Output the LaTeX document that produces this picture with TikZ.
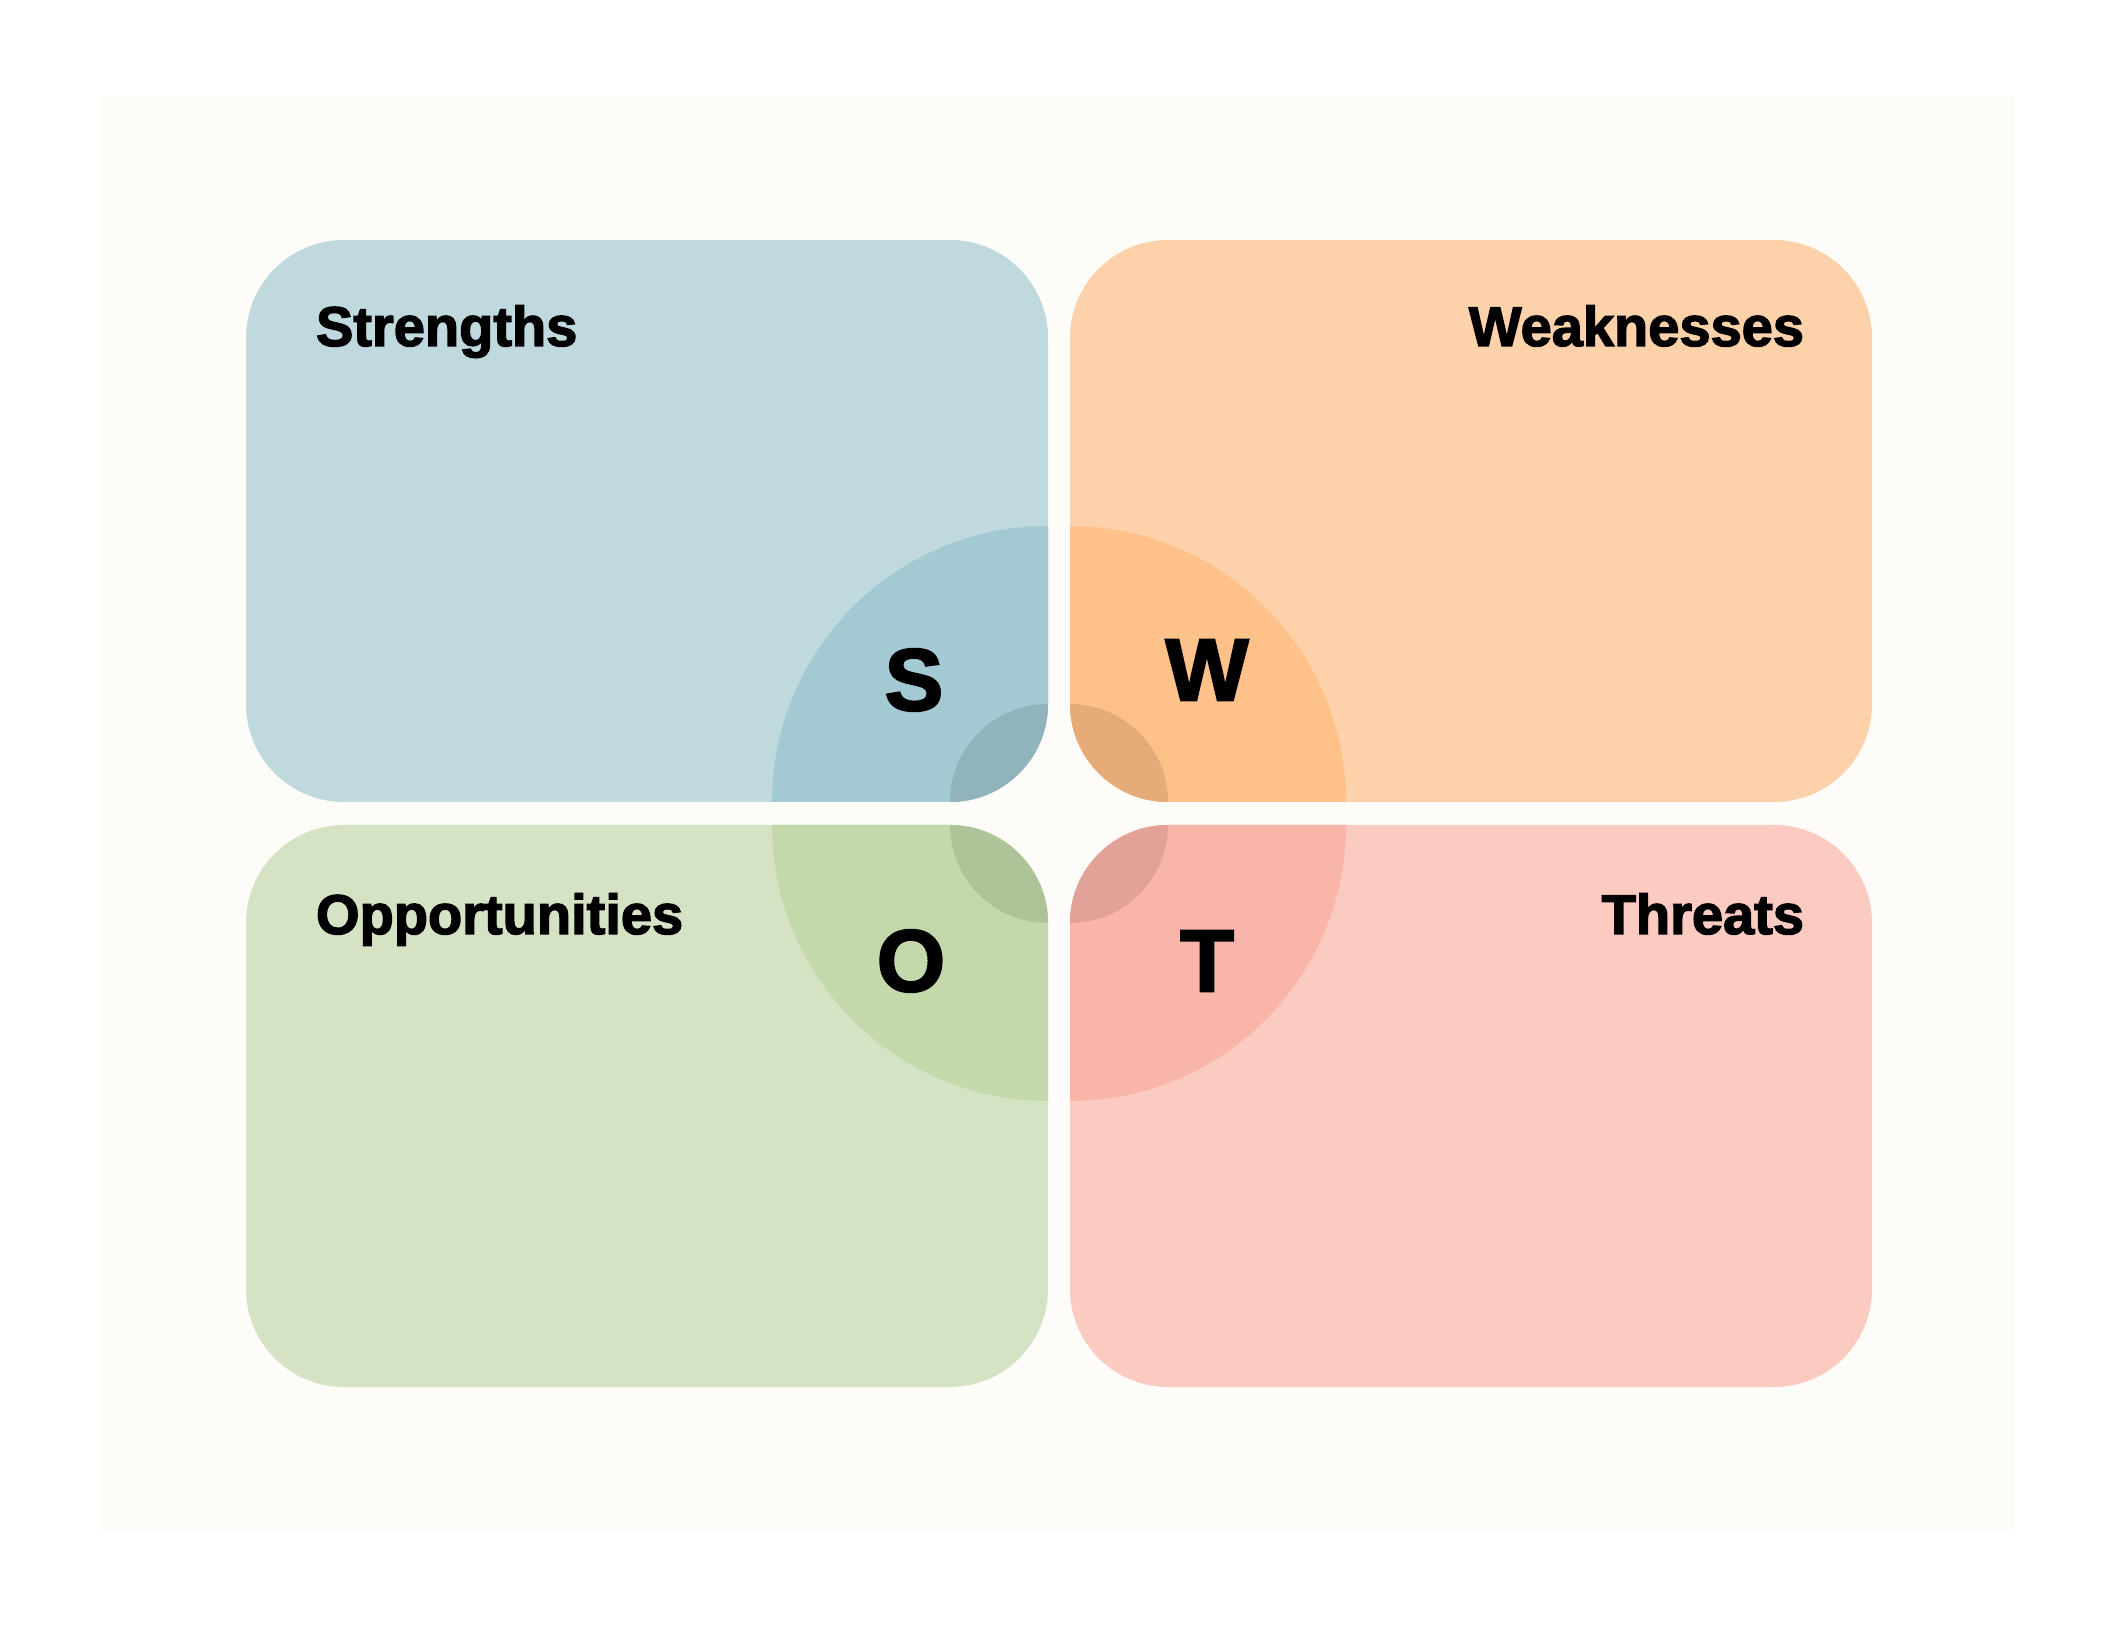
\documentclass[tikz,border=0pt]{standalone}
\usepackage{fontspec}
\setmainfont{Liberation Sans}
\newfontfamily\heavyfont[FakeBold=2.4]{Liberation Sans Bold}
\definecolor{outerbg}{HTML}{FFFFFF}
\definecolor{innerbg}{HTML}{FDFCF8}
\definecolor{sbox}{HTML}{BFD9DF}
\definecolor{sbig}{HTML}{A3CAD3}
\definecolor{slens}{HTML}{91B4BC}
\definecolor{wbox}{HTML}{FDD2AA}
\definecolor{wbig}{HTML}{FDC189}
\definecolor{wlens}{HTML}{E5AC79}
\definecolor{obox}{HTML}{D5E3C4}
\definecolor{obig}{HTML}{C3D9AB}
\definecolor{olens}{HTML}{ADC498}
\definecolor{tbox}{HTML}{FBCAC1}
\definecolor{tbig}{HTML}{F9B5AA}
\definecolor{tlens}{HTML}{E2A298}
\begin{document}
\begin{tikzpicture}[x=1pt,y=1pt,
  quad/.style={draw=none, rounded corners=98pt, minimum width=802pt, minimum height=562pt, inner sep=0pt, outer sep=0pt},
  boxtitle/.style={font=\heavyfont\fontsize{56}{60}\selectfont, inner sep=0pt, outer sep=0pt, text=black},
  bigletter/.style={font=\heavyfont\fontsize{88}{90}\selectfont, inner sep=0pt, outer sep=0pt, text=black}]
\useasboundingbox (0,0) rectangle (2124,1634);
\fill[outerbg] (0,0) rectangle (2124,1634);
\fill[innerbg] (102,103) rectangle (2015,1538);

% quadrant boxes
\node[quad, fill=sbox, anchor=north west] (S) at (246,1394) {};
\node[quad, fill=wbox, anchor=north west] (W) at (1070,1394) {};
\node[quad, fill=obox, anchor=north west] (O) at (246,809) {};
\node[quad, fill=tbox, anchor=north west] (T) at (1070,809) {};

% Strengths: quarter disc (r=276) and lens (r=98) at inner corner
\fill[sbig] (772,832) -- (950,832) arc[start angle=270, end angle=360, radius=98]
  -- (1048,1108) arc[start angle=90, end angle=180, radius=276] -- cycle;
\fill[slens] (950,832) arc[start angle=270, end angle=360, radius=98]
  arc[start angle=90, end angle=180, radius=98] -- cycle;

% Weaknesses
\fill[wbig] (1346,832) -- (1168,832) arc[start angle=270, end angle=180, radius=98]
  -- (1070,1108) arc[start angle=90, end angle=0, radius=276] -- cycle;
\fill[wlens] (1168,832) arc[start angle=270, end angle=180, radius=98]
  arc[start angle=90, end angle=0, radius=98] -- cycle;

% Opportunities
\fill[obig] (772,809) -- (950,809) arc[start angle=90, end angle=0, radius=98]
  -- (1048,533) arc[start angle=270, end angle=180, radius=276] -- cycle;
\fill[olens] (950,809) arc[start angle=90, end angle=0, radius=98]
  arc[start angle=270, end angle=180, radius=98] -- cycle;

% Threats
\fill[tbig] (1346,809) -- (1168,809) arc[start angle=90, end angle=180, radius=98]
  -- (1070,533) arc[start angle=270, end angle=360, radius=276] -- cycle;
\fill[tlens] (1168,809) arc[start angle=90, end angle=180, radius=98]
  arc[start angle=270, end angle=360, radius=98] -- cycle;

% titles
\node[boxtitle, anchor=base west] (st) at (316,1288) {Strengths};
\node[boxtitle, anchor=base east] (wt) at (1804,1288) {Weaknesses};
\node[boxtitle, anchor=base west] (ot) at (316,700) {Opportunities};
\node[boxtitle, anchor=base east] (tt) at (1804,700) {Threats};

% big letters
\node[bigletter] (sl) at (914,954) {S};
\node[bigletter] (wl) at (1207,964) {W};
\node[bigletter] (ol) at (911,673) {O};
\node[bigletter] (tl) at (1207,673) {T};
\end{tikzpicture}
\end{document}
